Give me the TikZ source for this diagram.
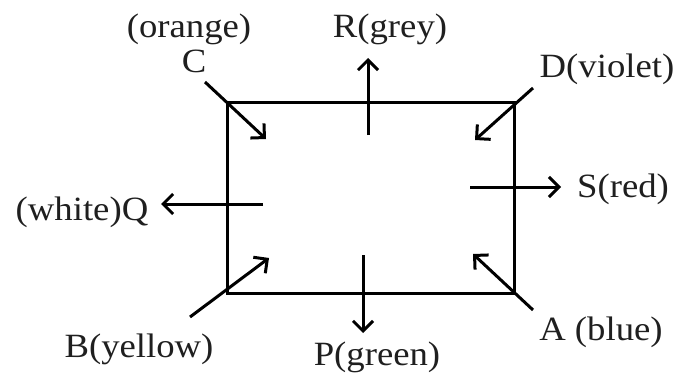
\documentclass[tikz,border=0pt]{standalone}
\usepackage{fontspec}
\setmainfont{Liberation Serif}[FakeStretch=1.08]
\usetikzlibrary{arrows.meta}
\begin{document}
\begin{tikzpicture}[x=1pt,y=-1pt,
  edge/.style={line width=3pt,line cap=round,line join=miter},
  arr/.style={line width=3pt,-{Straight Barb[length=10pt,width=20pt,line width=3pt]}},
  lbl/.style={font=\fontsize{34}{38}\selectfont,inner sep=0pt,anchor=base,text=black!88}]
\useasboundingbox (0,0) rectangle (679,377);
% rectangle corners
\coordinate (tl) at (227,103);
\coordinate (tr) at (514,103);
\coordinate (br) at (514,293);
\coordinate (bl) at (227,293);
\draw[edge] (tl) -- (tr) -- (br) -- (bl) -- cycle;
% arrow endpoints
\coordinate (c0) at (205,82);  \coordinate (c1) at (266,139);
\coordinate (d0) at (533,88);  \coordinate (d1) at (475,140);
\coordinate (r0) at (368,135); \coordinate (r1) at (368,58);
\coordinate (s0) at (470,187); \coordinate (s1) at (561,187);
\coordinate (q0) at (263,204); \coordinate (q1) at (161,204);
\coordinate (b0) at (190,317); \coordinate (b1) at (269,258);
\coordinate (a0) at (533,310); \coordinate (a1) at (473,254);
\coordinate (p0) at (363,255); \coordinate (p1) at (363,333);
\draw[arr] (c0) -- (c1);
\draw[arr] (d0) -- (d1);
\draw[arr] (r0) -- (r1);
\draw[arr] (s0) -- (s1);
\draw[arr] (q0) -- (q1);
\draw[arr] (b0) -- (b1);
\draw[arr] (a0) -- (a1);
\draw[arr] (p0) -- (p1);
% labels
\node[lbl] (orange) at (189,38) {(orange)};
\node[lbl] (C) at (194,73) {C};
\node[lbl] (R) at (390,38) {R(grey)};
\node[lbl] (D) at (607,78) {D(violet)};
\node[lbl] (S) at (623,197) {S(red)};
\node[lbl] (Q) at (82,220) {(white)Q};
\node[lbl] (B) at (139,357) {B(yellow)};
\node[lbl] (P) at (377,365) {P(green)};
\node[lbl] (A) at (601,340) {A (blue)};
\end{tikzpicture}
\end{document}
